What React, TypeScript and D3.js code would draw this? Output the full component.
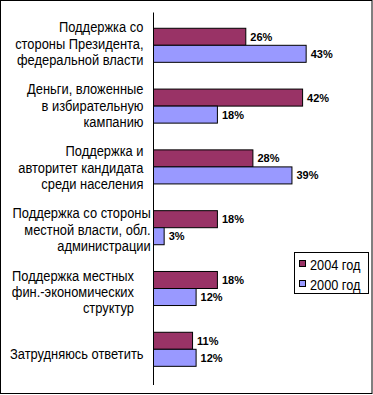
import { useEffect, useRef } from "react";
import * as d3 from "d3";

// categories, each split into the lines shown on the axis
const categories: string[][] = [
  ["Поддержка со", "стороны Президента,", "федеральной власти"],
  ["Деньги, вложенные", "в избирательную", "кампанию"],
  ["Поддержка и", "авторитет кандидата", "среди населения"],
  ["Поддержка со стороны", "местной власти, обл.", "администрации"],
  ["Поддержка местных", "фин.-экономических", "структур"],
  ["Затрудняюсь ответить"],
];

const values2004: number[] = [26, 42, 28, 18, 18, 11];
const values2000: number[] = [43, 18, 39, 3, 12, 12];

const seriesNames = ["2004 год", "2000 год"];
const seriesColors = ["#993366", "#9999FF"];

// how far each label block ends left of the axis (Excel right padding)
const labelPad: number[] = [10, 10, 10, 2.8, 19.5, 10];

export default function App() {
  const svgRef = useRef<SVGSVGElement>(null);

  useEffect(() => {
    document.body.style.margin = "0";
    const width = 373;
    const height = 395;
    const axisX = 153.5;
    const axisTop = 12.5;
    const axisBottom = 385;

    const svg = d3.select(svgRef.current).attr("width", width).attr("height", height);
    svg.selectAll("*").remove();

    svg
      .append("rect")
      .attr("x", 0.5)
      .attr("y", 0.5)
      .attr("width", 371.5)
      .attr("height", 393)
      .attr("fill", "#fff")
      .attr("stroke", "#000");

    // bars
    const yScale = d3
      .scaleBand<number>()
      .domain(d3.range(categories.length))
      .range([14.9, 379.7])
      .paddingInner(0.44)
      .paddingOuter(0.22);

    // labels sit on the full axis bands
    const labelScale = d3
      .scaleBand<number>()
      .domain(d3.range(categories.length))
      .range([axisTop, axisBottom]);

    const xScale = d3.scaleLinear().domain([0, 50]).range([axisX, axisX + 177.5]);

    const bh = yScale.bandwidth() / 2;
    const series = [values2004, values2000];

    series.forEach((vals, s) => {
      const g = svg.append("g");
      g.selectAll("rect")
        .data(vals)
        .join("rect")
        .attr("x", xScale(0))
        .attr("y", (_, i) => (yScale(i) || 0) + s * bh)
        .attr("width", (d) => xScale(d) - xScale(0))
        .attr("height", bh)
        .attr("fill", seriesColors[s])
        .attr("stroke", "#000")
        .attr("stroke-width", 1);

      g.selectAll("text")
        .data(vals)
        .join("text")
        .attr("x", (d) => xScale(d) + 4.5)
        .attr("y", (_, i) => (yScale(i) || 0) + s * bh + bh / 2 + 4)
        .attr("font-family", "Liberation Sans, Arial, sans-serif")
        .attr("font-weight", "bold")
        .attr("font-size", 11)
        .text((d) => `${d}%`);
    });

    // axis line
    svg
      .append("line")
      .attr("x1", axisX)
      .attr("x2", axisX)
      .attr("y1", axisTop)
      .attr("y2", axisBottom)
      .attr("stroke", "#000");

    // category labels
    const lineH = 16.3;
    categories.forEach((lines, i) => {
      const cy = (labelScale(i) || 0) + labelScale.bandwidth() / 2;
      lines.forEach((ln, j) => {
        const y = cy + (j - (lines.length - 1) / 2) * lineH + 5;
        svg
          .append("text")
          .attr("transform", `translate(${axisX - labelPad[i]},${y}) scale(0.86,1)`)
          .attr("text-anchor", "end")
          .attr("font-family", "Liberation Sans, Arial, sans-serif")
          .attr("font-size", 15)
          .text(ln);
      });
    });

    // legend
    const lg = svg.append("g").attr("transform", "translate(294.5,252.5)");
    lg.append("rect")
      .attr("width", 74)
      .attr("height", 41)
      .attr("fill", "#fff")
      .attr("stroke", "#000");
    seriesNames.forEach((name, s) => {
      const y = 11.5 + s * 20;
      lg.append("rect")
        .attr("x", 5)
        .attr("y", y - 3.5)
        .attr("width", 6)
        .attr("height", 6)
        .attr("fill", seriesColors[s])
        .attr("stroke", "#000");
      lg.append("text")
        .attr("transform", `translate(15.5,${y + 5.5}) scale(0.85,1)`)
        .attr("font-family", "Liberation Sans, Arial, sans-serif")
        .attr("font-size", 15)
        .text(name);
    });
  }, []);

  return <svg ref={svgRef}></svg>;
}
